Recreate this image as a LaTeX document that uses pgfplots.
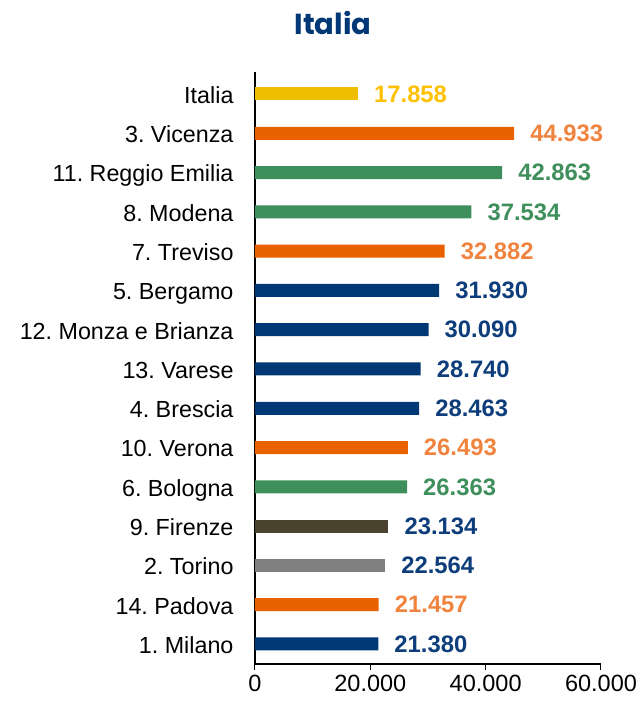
\documentclass[border=0pt]{standalone}
\usepackage{fontspec}
\setmainfont{Liberation Sans}
\newfontfamily\titlefont{Poppins}
\usepackage{pgfplots}
\pgfplotsset{compat=1.18}
\frenchspacing
\definecolor{cyellow}{HTML}{F0BE00}
\definecolor{cyellowlab}{HTML}{FFC000}
\definecolor{corange}{HTML}{EA6200}
\definecolor{corangelab}{HTML}{F0843F}
\definecolor{cgreen}{HTML}{3E8F5C}
\definecolor{cnavy}{HTML}{003876}
\definecolor{cnavylab}{HTML}{0D3D7A}
\definecolor{colive}{HTML}{4B432D}
\definecolor{cgray}{HTML}{808080}
\begin{document}
\begin{tikzpicture}
\path[use as bounding box] (-255pt,-40pt) rectangle (387pt,664pt);
\begin{axis}[
  scale only axis,
  width=346pt, height=592pt,
  xbar, bar width=13pt, bar shift=0pt,
  xmin=0, xmax=60000,
  ymin=-0.51, ymax=14.56,
  axis x line*=bottom, axis y line*=left,
  axis line style={-, black, line width=1.2pt},
  xtick={0,20000,40000,60000},
  tick align=outside,
  major tick length=6pt,
  x tick style={black, line width=1pt},
  scaled x ticks=false,
  /pgf/number format/.cd, 1000 sep={.}, fixed, precision=0, assume math mode=true,
  /pgfplots/.cd,
  xticklabel style={font=\fontsize{23.5}{27}\selectfont, yshift=-2pt},
  ytick={0,...,14},
  yticklabels={1. Milano, 14. Padova, 2. Torino, 9. Firenze, 6. Bologna, 10. Verona, 4. Brescia, 13. Varese, 12. Monza e Brianza, 5. Bergamo, 7. Treviso, 8. Modena, 11. Reggio Emilia, 3. Vicenza, Italia},
  y tick style={draw=none},
  yticklabel style={font=\fontsize{23.3}{27}\selectfont, xshift=-12pt, text height=16.7pt, text depth=0pt, yshift=-1pt},
  nodes near coords={\pgfmathprintnumber[1000 sep={.}, fixed, precision=0]{\pgfplotspointmeta}},
  nodes near coords style={anchor=west, inner sep=0pt, xshift=16pt, font=\fontsize{23.8}{27}\selectfont\bfseries},
  clip=false,
]
\addplot[fill=cyellow, draw=none, nodes near coords style={text=cyellowlab}] coordinates {(17858,14)};
\addplot[fill=corange, draw=none, nodes near coords style={text=corangelab}] coordinates {(44933,13) (32882,10) (26493,5) (21457,1)};
\addplot[fill=cgreen, draw=none, nodes near coords style={text=cgreen}] coordinates {(42863,12) (37534,11) (26363,4)};
\addplot[fill=cnavy, draw=none, nodes near coords style={text=cnavylab}] coordinates {(31930,9) (30090,8) (28740,7) (28463,6) (21380,0)};
\addplot[fill=colive, draw=none, nodes near coords style={text=cnavylab}] coordinates {(23134,3)};
\addplot[fill=cgray, draw=none, nodes near coords style={text=cnavylab}] coordinates {(22564,2)};
\end{axis}
\node[text=cnavy, font=\titlefont\bfseries\fontsize{29}{33}\selectfont] at (78pt,641pt) {Italia};
\end{tikzpicture}
\end{document}
